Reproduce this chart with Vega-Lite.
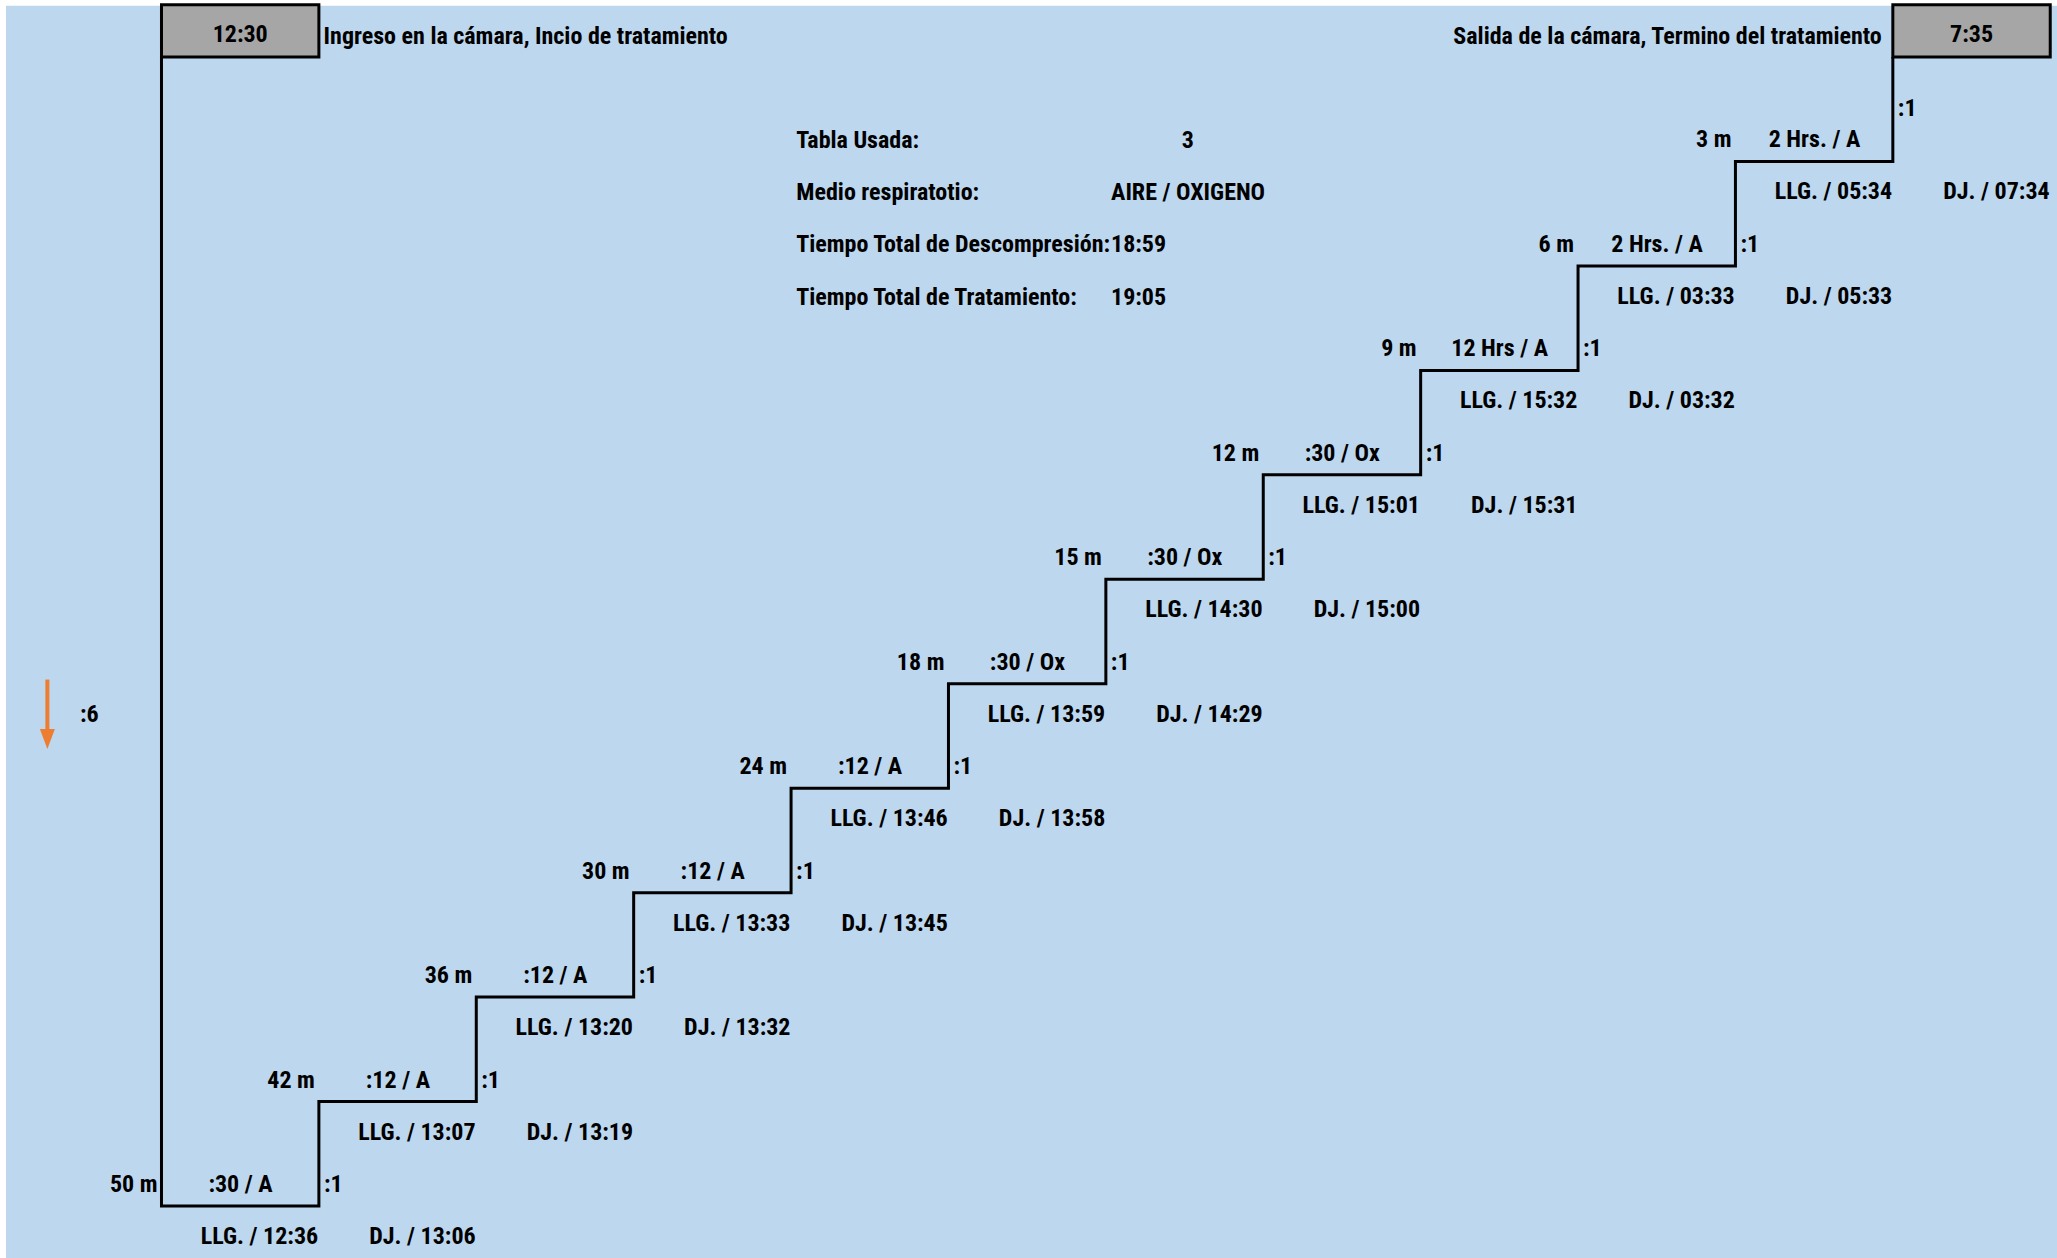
{
  "$schema": "https://vega.github.io/schema/vega-lite/v6.json",
  "width": 2057,
  "height": 1258,
  "autosize": {"type": "none"},
  "padding": 0,
  "background": "#FFFFFF",
  "config": {
    "view": {"stroke": null},
    "text": {"font": "Roboto Condensed, Roboto, sans-serif", "fontWeight": "bold", "fontSize": 24, "color": "#000000", "baseline": "middle"}
  },
  "datasets": {
    "bg": [{"c": -0.988, "c2": 12.2, "l": -0.7, "l2": 11.49}],
    "boxes": [
      {"c": 0, "c2": 1, "l": 11, "l2": 11.5, "label": "12:30"},
      {"c": 11, "c2": 12, "l": 11, "l2": 11.5, "label": "7:35"}
    ],
    "path": [
      {"o": 0, "c": 0, "l": 11}, {"o": 1, "c": 0, "l": 0},
      {"o": 2, "c": 1, "l": 0}, {"o": 3, "c": 1, "l": 1},
      {"o": 4, "c": 2, "l": 1}, {"o": 5, "c": 2, "l": 2},
      {"o": 6, "c": 3, "l": 2}, {"o": 7, "c": 3, "l": 3},
      {"o": 8, "c": 4, "l": 3}, {"o": 9, "c": 4, "l": 4},
      {"o": 10, "c": 5, "l": 4}, {"o": 11, "c": 5, "l": 5},
      {"o": 12, "c": 6, "l": 5}, {"o": 13, "c": 6, "l": 6},
      {"o": 14, "c": 7, "l": 6}, {"o": 15, "c": 7, "l": 7},
      {"o": 16, "c": 8, "l": 7}, {"o": 17, "c": 8, "l": 8},
      {"o": 18, "c": 9, "l": 8}, {"o": 19, "c": 9, "l": 9},
      {"o": 20, "c": 10, "l": 9}, {"o": 21, "c": 10, "l": 10},
      {"o": 22, "c": 11, "l": 10}, {"o": 23, "c": 11, "l": 11}
    ],
    "steps": [
      {"i": 0, "depth": "50 m", "time": ":30 / A", "llg": "LLG. / 12:36", "dj": "DJ. / 13:06"},
      {"i": 1, "depth": "42 m", "time": ":12 / A", "llg": "LLG. / 13:07", "dj": "DJ. / 13:19"},
      {"i": 2, "depth": "36 m", "time": ":12 / A", "llg": "LLG. / 13:20", "dj": "DJ. / 13:32"},
      {"i": 3, "depth": "30 m", "time": ":12 / A", "llg": "LLG. / 13:33", "dj": "DJ. / 13:45"},
      {"i": 4, "depth": "24 m", "time": ":12 / A", "llg": "LLG. / 13:46", "dj": "DJ. / 13:58"},
      {"i": 5, "depth": "18 m", "time": ":30 / Ox", "llg": "LLG. / 13:59", "dj": "DJ. / 14:29"},
      {"i": 6, "depth": "15 m", "time": ":30 / Ox", "llg": "LLG. / 14:30", "dj": "DJ. / 15:00"},
      {"i": 7, "depth": "12 m", "time": ":30 / Ox", "llg": "LLG. / 15:01", "dj": "DJ. / 15:31"},
      {"i": 8, "depth": "9 m", "time": "12 Hrs / A", "llg": "LLG. / 15:32", "dj": "DJ. / 03:32"},
      {"i": 9, "depth": "6 m", "time": "2 Hrs. / A", "llg": "LLG. / 03:33", "dj": "DJ. / 05:33"},
      {"i": 10, "depth": "3 m", "time": "2 Hrs. / A", "llg": "LLG. / 05:34", "dj": "DJ. / 07:34"}
    ],
    "ascents": [
      {"c": 1, "l": 0.2, "t": ":1"}, {"c": 2, "l": 1.2, "t": ":1"},
      {"c": 3, "l": 2.2, "t": ":1"}, {"c": 4, "l": 3.2, "t": ":1"},
      {"c": 5, "l": 4.2, "t": ":1"}, {"c": 6, "l": 5.2, "t": ":1"},
      {"c": 7, "l": 6.2, "t": ":1"}, {"c": 8, "l": 7.2, "t": ":1"},
      {"c": 9, "l": 8.2, "t": ":1"}, {"c": 10, "l": 9.2, "t": ":1"},
      {"c": 11, "l": 10.5, "t": ":1"},
      {"c": -0.55, "l": 4.7, "t": ":6"}
    ],
    "leftNotes": [
      {"c": 1.03, "l": 11.19, "t": "Ingreso en la cámara, Incio de tratamiento"},
      {"c": 4.033, "l": 10.2, "t": "Tabla Usada:"},
      {"c": 4.033, "l": 9.7, "t": "Medio respiratotio:"},
      {"c": 4.033, "l": 9.196, "t": "Tiempo Total de Descompresión:"},
      {"c": 4.033, "l": 8.69, "t": "Tiempo Total de Tratamiento:"},
      {"c": 6.033, "l": 9.7, "t": "AIRE / OXIGENO"},
      {"c": 6.033, "l": 9.196, "t": "18:59"},
      {"c": 6.033, "l": 8.69, "t": "19:05"}
    ],
    "rightNotes": [
      {"c": 10.93, "l": 11.19, "t": "Salida de la cámara, Termino del tratamiento"}
    ],
    "centerNotes": [
      {"c": 6.52, "l": 10.2, "t": "3"}
    ],
    "arrow": [{"c": -0.725, "l": 5.04, "l2": 4.56}],
    "arrowHead": [{"c": -0.725, "l": 4.47}]
  },
  "encoding": {
    "x": {"field": "c", "type": "quantitative", "scale": {"domain": [-1.026, 12.043], "nice": false, "zero": false}, "axis": null},
    "y": {"field": "l", "type": "quantitative", "scale": {"domain": [-0.498, 11.546], "nice": false, "zero": false}, "axis": null}
  },
  "layer": [
    {
      "data": {"name": "bg"},
      "mark": {"type": "rect", "fill": "#BDD7EE"},
      "encoding": {"x2": {"field": "c2"}, "y2": {"field": "l2"}}
    },
    {
      "data": {"name": "path"},
      "mark": {"type": "line", "color": "#000000", "strokeWidth": 3, "interpolate": "linear"},
      "encoding": {"order": {"field": "o", "type": "quantitative"}}
    },
    {
      "data": {"name": "boxes"},
      "mark": {"type": "rect", "fill": "#A6A6A6", "stroke": "#000000", "strokeWidth": 3},
      "encoding": {"x2": {"field": "c2"}, "y2": {"field": "l2"}}
    },
    {
      "data": {"name": "boxes"},
      "mark": {"type": "text", "align": "center", "dx": 78.7, "dy": -22},
      "encoding": {"text": {"field": "label"}}
    },
    {
      "data": {"name": "steps"},
      "mark": {"type": "text", "align": "right", "dx": -4, "dy": -21},
      "encoding": {"x": {"field": "i", "type": "quantitative"}, "y": {"field": "i", "type": "quantitative"}, "text": {"field": "depth"}}
    },
    {
      "data": {"name": "steps"},
      "mark": {"type": "text", "align": "center", "dx": 79, "dy": -21},
      "encoding": {"x": {"field": "i", "type": "quantitative"}, "y": {"field": "i", "type": "quantitative"}, "text": {"field": "time"}}
    },
    {
      "data": {"name": "steps"},
      "mark": {"type": "text", "align": "center", "dx": 98, "dy": 31},
      "encoding": {"x": {"field": "i", "type": "quantitative"}, "y": {"field": "i", "type": "quantitative"}, "text": {"field": "llg"}}
    },
    {
      "data": {"name": "steps"},
      "mark": {"type": "text", "align": "center", "dx": 261, "dy": 31},
      "encoding": {"x": {"field": "i", "type": "quantitative"}, "y": {"field": "i", "type": "quantitative"}, "text": {"field": "dj"}}
    },
    {
      "data": {"name": "ascents"},
      "mark": {"type": "text", "align": "left", "dx": 5},
      "encoding": {"text": {"field": "t"}}
    },
    {
      "data": {"name": "leftNotes"},
      "mark": {"type": "text", "align": "left"},
      "encoding": {"text": {"field": "t"}}
    },
    {
      "data": {"name": "rightNotes"},
      "mark": {"type": "text", "align": "right"},
      "encoding": {"text": {"field": "t"}}
    },
    {
      "data": {"name": "centerNotes"},
      "mark": {"type": "text", "align": "center"},
      "encoding": {"text": {"field": "t"}}
    },
    {
      "data": {"name": "arrow"},
      "mark": {"type": "rule", "color": "#ED7D31", "strokeWidth": 4},
      "encoding": {"y2": {"field": "l2"}}
    },
    {
      "data": {"name": "arrowHead"},
      "mark": {"type": "point", "shape": "M-0.75,-1L0.75,-1L0,1Z", "size": 400, "filled": true, "color": "#ED7D31", "opacity": 1, "strokeWidth": 0},
      "encoding": {}
    }
  ]
}
